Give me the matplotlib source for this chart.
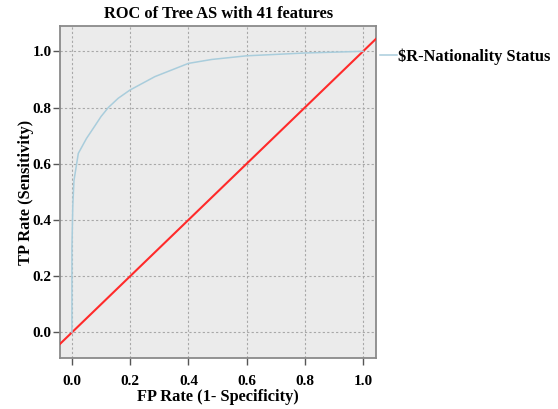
import matplotlib
matplotlib.use("Agg")
import matplotlib.pyplot as plt

# Data
fpr = [0.0, 0.0, 0.003, 0.007, 0.022, 0.05, 0.079, 0.10, 0.125, 0.159, 0.199, 0.285, 0.40, 0.48, 0.60, 0.80, 1.0]
tpr = [0.0, 0.30, 0.45, 0.54, 0.637, 0.69, 0.735, 0.768, 0.80, 0.833, 0.862, 0.91, 0.957, 0.971, 0.984, 0.994, 1.0]
ref_line = [-0.1, 1.1]
ticks = [0.0, 0.2, 0.4, 0.6, 0.8, 1.0]
tick_labels = ["0.0", "0.2", "0.4", "0.6", "0.8", "1.0"]
series_label = "$R-Nationality Status"

plt.rcParams['font.family'] = ['Liberation Serif', 'DejaVu Serif']
plt.rcParams['font.weight'] = 'bold'

fig = plt.figure(figsize=(5.58, 4.09), dpi=100)
ax = fig.add_axes([0.1075, 0.1247, 0.5672, 0.8117])
ax.set_facecolor('#ebebeb')

ax.plot(ref_line, ref_line, color='#ff2a2a', lw=1.5, zorder=3)
ax.plot(fpr, tpr, color='#a9cddc', lw=1.1, zorder=4)

ax.set_xlim(-0.041, 1.046)
ax.set_ylim(-0.091, 1.09)
ax.set_xticks(ticks)
ax.set_xticklabels(tick_labels)
ax.set_yticks(ticks)
ax.set_yticklabels(tick_labels)
ax.grid(True, linestyle=(0, (2, 2)), color='#a8a8a8', lw=0.8)
ax.set_axisbelow(True)
for s in ax.spines.values():
    s.set_color('#8a8a8a')
    s.set_linewidth(1.3)
ax.tick_params(direction='out', length=5, width=1, color='#555555', labelsize=11)
ax.tick_params(axis='x', pad=7)
ax.tick_params(axis='y', pad=1)
for lbl in ax.get_xticklabels() + ax.get_yticklabels():
    lbl.set_fontweight('bold')

ax.set_title("ROC of Tree AS with 41 features", fontsize=11.8, fontweight='bold', pad=6)
ax.set_xlabel("FP Rate (1- Specificity)", fontsize=11.8, fontweight='bold', labelpad=1)
ax.set_ylabel("TP Rate (Sensitivity)", fontsize=11.8, fontweight='bold', labelpad=-1)

# legend-like label outside the axes
fig.lines.append(plt.Line2D([380/558, 397/558], [1-55/409, 1-55/409], color='#a9cddc', lw=1.1, transform=fig.transFigure))
fig.text(398/558, 1-57/409, series_label, fontsize=11.8, fontweight='bold', va='center', ha='left')

fig.savefig("out.png", dpi=100)
